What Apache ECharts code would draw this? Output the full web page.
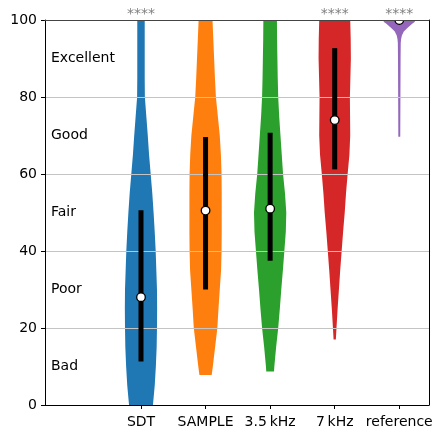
<!DOCTYPE html>
<html><head><meta charset="utf-8">
<script src="https://cdn.jsdelivr.net/npm/echarts@6/dist/echarts.min.js"></script>
<style>html,body{margin:0;padding:0;background:#fff}#c{width:432px;height:432px}</style>
</head><body><div id="c"></div>
<script>
const categories = ['SDT', 'SAMPLE', '3.5\u2009kHz', '7\u2009kHz', 'reference'];
const positions = [1, 2, 3, 4, 5];
const colors = ['#1f77b4', '#ff7f0e', '#2ca02c', '#d62728', '#9467bd'];
const medians = [28, 50.5, 51, 74, 100];
const q1 = [11.3, 30, 37.5, 61.2, 100];
const q3 = [50.6, 69.6, 70.7, 92.7, 100];
const significance = ['****', '', '', '****', '****'];
const qualityLabels = ['Bad', 'Poor', 'Fair', 'Good', 'Excellent'];
const qualityLevels = [10, 30, 50, 70, 90];
const yTicks = [0, 20, 40, 60, 80, 100];

// kernel density estimates: [score, relative width]
const densitySDT = [[0,0.74],[5,0.85],[10,0.92],[15,0.97],[20,0.99],[25,1.0],[30,0.99],[35,0.95],[40,0.91],[45,0.85],[50,0.78],[55,0.7],[60,0.6],[65,0.5],[70,0.42],[75,0.33],[80,0.24],[85,0.23],[90,0.23],[95,0.23],[100,0.23]];
const densitySAMPLE = [[7.8,0.38],[10,0.45],[15,0.59],[20,0.73],[25,0.8],[30,0.88],[35,0.96],[40,0.99],[45,1.0],[50,1.0],[55,1.0],[60,0.99],[65,0.95],[70,0.88],[75,0.76],[80,0.64],[85,0.58],[90,0.53],[95,0.48],[100,0.43]];
const density35k = [[8.7,0.24],[10,0.26],[15,0.37],[20,0.5],[25,0.6],[30,0.69],[35,0.79],[40,0.88],[45,0.97],[50,1.0],[55,0.92],[60,0.8],[65,0.72],[70,0.64],[75,0.56],[80,0.5],[85,0.47],[90,0.45],[95,0.43],[100,0.42]];
const density7k = [[17,0.07],[20,0.11],[25,0.18],[30,0.26],[35,0.34],[40,0.43],[45,0.52],[50,0.62],[55,0.7],[60,0.8],[65,0.91],[70,0.96],[75,0.95],[80,0.94],[85,0.97],[90,1.0],[95,0.99],[100,0.96]];
const densityRef = [[69.7,0.06],[80,0.07],[90,0.08],[94,0.09],[95,0.11],[96,0.16],[97,0.28],[98,0.52],[99,0.8],[99.5,0.95],[100,1.0]];
const densities = [densitySDT, densitySAMPLE, density35k, density7k, densityRef];

const X_MIN = -0.4865, X_MAX = 5.46;
const HALF = 0.25;
const FONT = 'DejaVu Sans';

const chart = echarts.init(document.getElementById('c'), null, {renderer: 'canvas'});
const seriesData = positions.map((p, i) => [p, medians[i]]);

chart.setOption({
  animation: false,
  grid: {left: 45, right: 3, top: 20, bottom: 27, show: false, containLabel: false, outerBoundsMode: 'none'},
  xAxis: [{
    type: 'value', min: X_MIN, max: X_MAX, position: 'bottom', z: 6,
    axisLine: {show: true, onZero: false, lineStyle: {color: '#000', width: 1}},
    axisTick: {show: true, length: 4, lineStyle: {color: '#000'}, customValues: positions},
    axisLabel: {show: true, customValues: positions, margin: 10, color: '#000', fontFamily: FONT, fontSize: 14,
      hideOverlap: false, formatter: v => categories[positions.indexOf(v)] || ''},
    splitLine: {show: false}
  }, {
    type: 'value', min: X_MIN, max: X_MAX, position: 'top', z: 6,
    axisLine: {show: true, onZero: false, lineStyle: {color: '#444', width: 1}},
    axisTick: {show: false}, axisLabel: {show: false}, splitLine: {show: false}
  }],
  yAxis: [{
    type: 'value', min: 0, max: 100, interval: 20, position: 'left', z: 3,
    axisLine: {show: true, onZero: false, lineStyle: {color: '#000', width: 1}},
    axisTick: {show: true, length: 4, lineStyle: {color: '#000'}},
    axisLabel: {margin: 8, color: '#000', fontFamily: FONT, fontSize: 14},
    splitLine: {show: true, lineStyle: {color: '#c4c4c4', width: 1}}
  }, {
    type: 'value', min: 0, max: 100, interval: 20, position: 'right', z: 6,
    axisLine: {show: true, onZero: false, lineStyle: {color: '#000', width: 1}},
    axisTick: {show: false}, axisLabel: {show: false}, splitLine: {show: false}
  }],
  series: [
    {
      type: 'custom', name: 'violins', z: 2, clip: true, data: seriesData,
      renderItem: (params, api) => {
        const i = params.dataIndex;
        const x = api.value(0);
        const d = densities[i];
        const right = d.map(([y, w]) => api.coord([x + w * HALF, y]));
        const left = d.slice().reverse().map(([y, w]) => api.coord([x - w * HALF, y]));
        return {type: 'polygon', shape: {points: right.concat(left)}, style: {fill: colors[i]}};
      }
    },
    {
      type: 'custom', name: 'iqr', z: 4, clip: true, data: seriesData,
      renderItem: (params, api) => {
        const i = params.dataIndex;
        const x = api.value(0);
        const t = api.coord([x, q3[i]]), b = api.coord([x, q1[i]]);
        return {type: 'rect', shape: {x: t[0] - 2.5, y: t[1], width: 5, height: b[1] - t[1]}, style: {fill: '#000'}};
      }
    },
    {
      type: 'custom', name: 'median', z: 5, clip: true, data: seriesData,
      renderItem: (params, api) => {
        const p = api.coord([api.value(0), api.value(1)]);
        return {type: 'circle', shape: {cx: p[0], cy: p[1], r: 4.3}, style: {fill: '#fff', stroke: '#000', lineWidth: 1.3}};
      }
    },
    {
      type: 'custom', name: 'significance', z: 7, clip: false, data: seriesData,
      renderItem: (params, api) => {
        const i = params.dataIndex;
        const p = api.coord([api.value(0), 100]);
        return {type: 'text', x: p[0], y: p[1] - 6, style: {text: significance[i], fill: '#808080', font: '14px "DejaVu Sans"', align: 'center', verticalAlign: 'middle'}};
      }
    },
    {
      type: 'custom', name: 'quality', z: 7, clip: false, data: qualityLevels.map(v => [X_MIN, v]),
      renderItem: (params, api) => {
        const p = api.coord([api.value(0), api.value(1)]);
        return {type: 'text', x: p[0] + 6, y: p[1], style: {text: qualityLabels[params.dataIndex], fill: '#000', font: '14px "DejaVu Sans"', align: 'left', verticalAlign: 'middle'}};
      }
    }
  ]
});
</script>
</body></html>
